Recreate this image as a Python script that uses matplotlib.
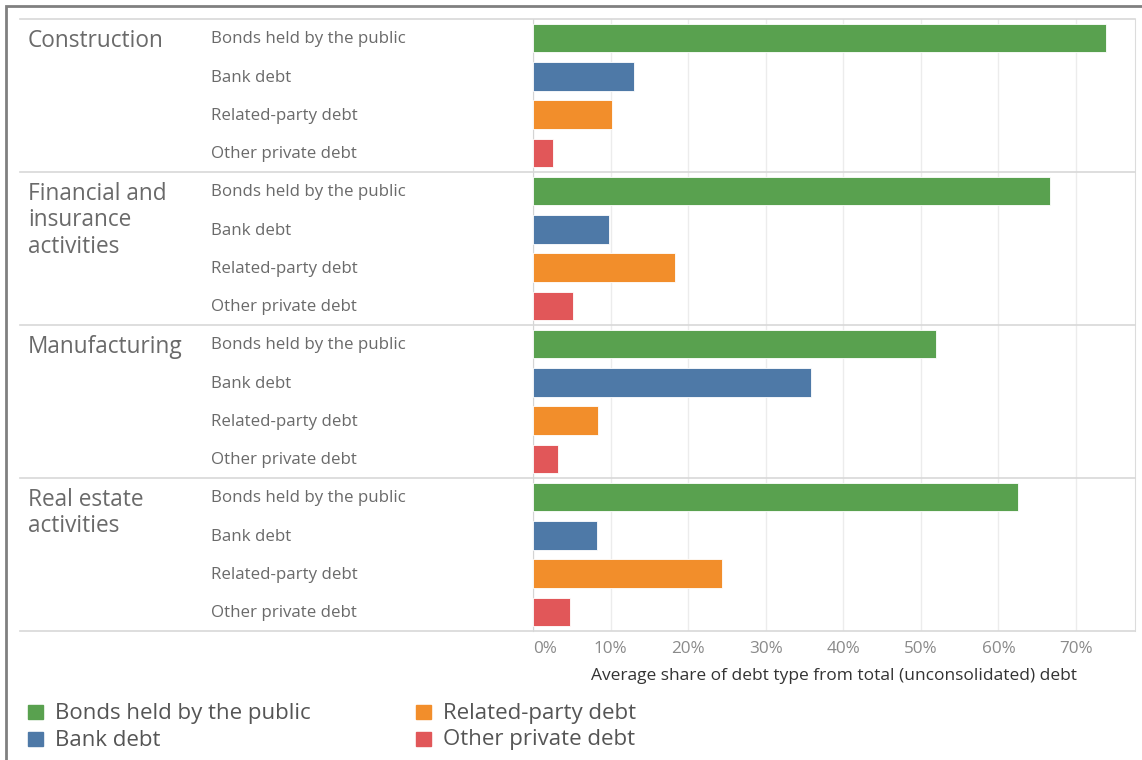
import matplotlib.pyplot as plt
from matplotlib.lines import Line2D
from matplotlib.patches import Rectangle
from matplotlib.transforms import blended_transform_factory

plt.rcParams["font.family"] = ["Open Sans", "DejaVu Sans"]

sectors = ["Construction", "Financial and\ninsurance\nactivities",
           "Manufacturing", "Real estate\nactivities"]
debt_types = ["Bonds held by the public", "Bank debt",
              "Related-party debt", "Other private debt"]
colors = ["#59A14F", "#4E79A7", "#F28E2B", "#E15759"]

# share of total debt, in %, one list per sector (same order as debt_types)
construction = [73.9, 13.0, 10.2, 2.6]
financial = [66.6, 9.8, 18.3, 5.2]
manufacturing = [51.9, 35.8, 8.4, 3.2]
real_estate = [62.5, 8.3, 24.3, 4.8]
values = [construction, financial, manufacturing, real_estate]

ticks = [0, 10, 20, 30, 40, 50, 60, 70]
x_title = "Average share of debt type from total (unconsolidated) debt"

W, H = 1142, 760
fig = plt.figure(figsize=(W / 100, H / 100), dpi=100)

# plot area in pixel coords
left, right, top, bottom = 533, 1135, 19, 631
ax = fig.add_axes([left / W, 1 - bottom / H, (right - left) / W, (bottom - top) / H])

n_rows = len(sectors) * len(debt_types)
for g, vals in enumerate(values):
    for k, v in enumerate(vals):
        row = g * len(debt_types) + k
        ax.barh(row + 0.5, v, height=0.745, color=colors[k], edgecolor="white",
                linewidth=0.6, zorder=3)

ax.set_xlim(0, 77.6)
ax.set_ylim(n_rows, 0)
ax.set_yticks([])
ax.set_xticks(ticks)
ax.set_xticklabels([f"{t}%" for t in ticks], color="#8a8a8a", fontsize=12.3)
ax.tick_params(axis="x", length=0, pad=7)
ax.get_xticklabels()[0].set_horizontalalignment("left")
ax.grid(axis="x", color="#ececec", linewidth=1, zorder=0)
for s in ["top", "bottom"]:
    ax.spines[s].set_visible(False)
ax.spines["left"].set_color("#d4d4d4")
ax.spines["right"].set_color("#dcdcdc")
ax.set_xlabel(x_title, fontsize=12.5, color="#333333", labelpad=8)

# row labels and group separators
tr = blended_transform_factory(fig.transFigure, ax.transData)
for g, name in enumerate(sectors):
    y0 = g * len(debt_types)
    ax.text(28 / W, y0 + 0.26, name, transform=tr, ha="left", va="top",
            fontsize=16.3, color="#6a6a6a", linespacing=1.13)
    for k, lab in enumerate(debt_types):
        ax.text(211 / W, y0 + k + 0.53, lab, transform=tr, ha="left",
                va="center", fontsize=12.2, color="#6a6a6a")
for b in range(len(sectors) + 1):
    y = b * len(debt_types)
    fig.add_artist(Line2D([20 / W, right / W], [y, y], transform=tr,
                          color="#d8d8d8", linewidth=1.2))

# outer frame (top and left edges visible)
fig.add_artist(Rectangle((6 / W, -0.1), 1.2, 1 - 6 / H + 0.1,
                         transform=fig.transFigure, fill=False,
                         edgecolor="#808080", linewidth=2))

# legend
leg_cols = [(28, 55), (416, 443)]
leg_rows = [712, 739]
for k, lab in enumerate(debt_types):
    xs, xt = leg_cols[k // 2]
    yy = leg_rows[k % 2]
    fig.add_artist(Rectangle((xs / W, 1 - (yy + 7) / H), 15 / W, 14 / H,
                             transform=fig.transFigure, color=colors[k]))
    fig.text(xt / W, 1 - (yy + 1) / H, lab, ha="left", va="center",
             fontsize=16, color="#555555")

fig.savefig("out.png", dpi=100, facecolor="white")
